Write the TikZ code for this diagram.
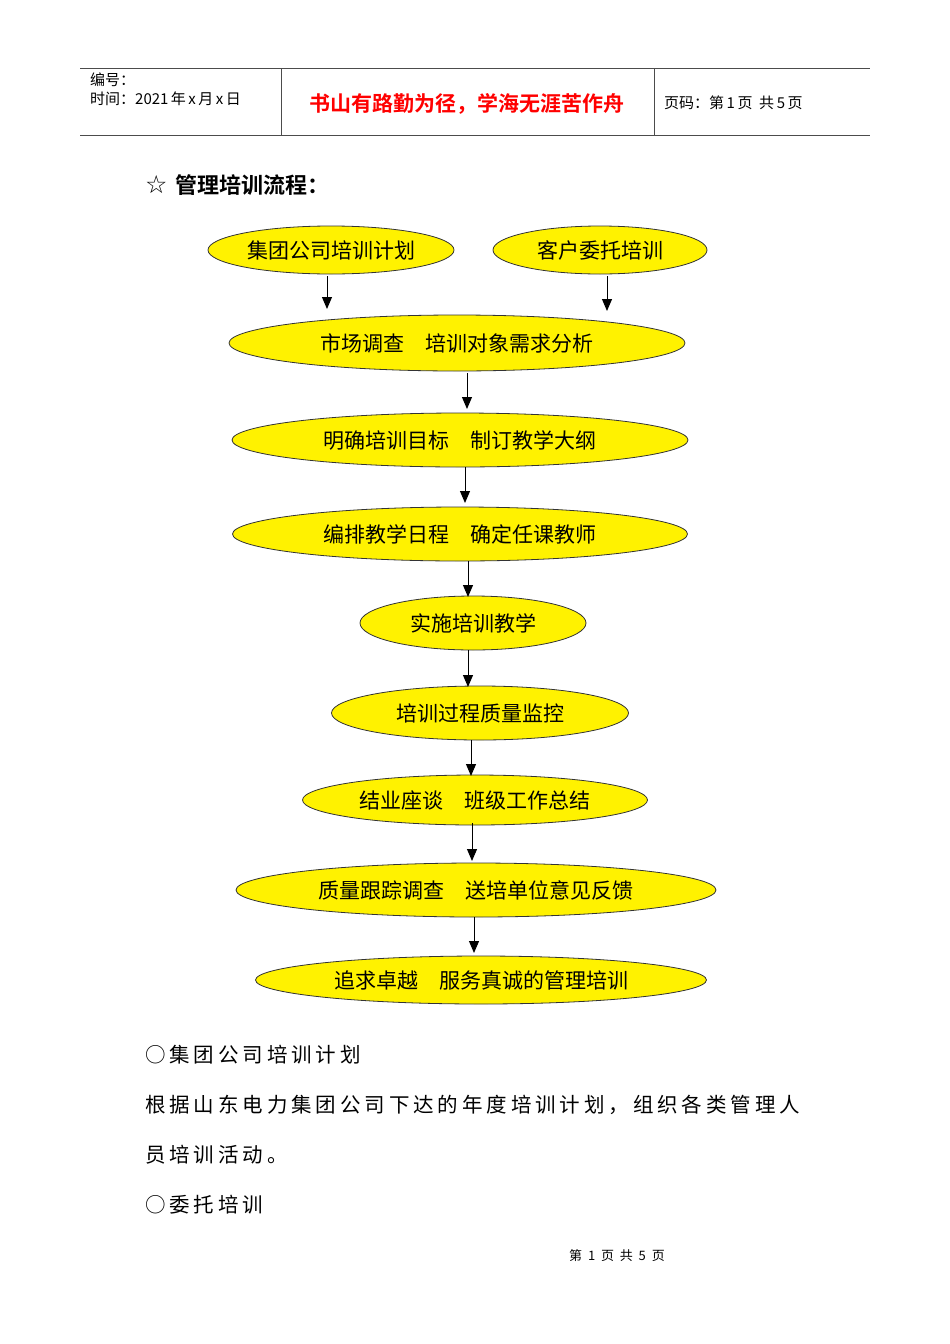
\documentclass[tikz,border=0pt]{standalone}
\usepackage{fontspec}
\setmainfont{Liberation Serif}
\newfontfamily\cjk{Noto Sans CJK SC}
\newfontfamily\cjkb{Noto Sans CJK SC Bold}
\newfontfamily\cjkl[LetterSpace=19]{Noto Sans CJK SC}
\newfontfamily\symf{DejaVu Sans}
\begin{document}
\begin{tikzpicture}[x=1pt,y=-1pt,
  ell/.style={ellipse,draw=black!80,line width=0.8pt,fill=yellow,inner sep=0pt,
     font=\cjk\fontsize{21}{21}\selectfont},
  arr/.style={-{Triangle[length=12pt,width=10pt]},line width=1pt},
  hdr/.style={anchor=west,font=\cjk\fontsize{15}{15}\selectfont,inner sep=0pt},
  body/.style={anchor=west,font=\cjkl\fontsize{20.5}{20.5}\selectfont,inner sep=0pt}]
\usetikzlibrary{shapes.geometric,arrows.meta}
\useasboundingbox (0,0) rectangle (950,1344);
% header
\draw[line width=0.8pt,black!70] (80,68) -- (870,68) (80,135) -- (870,135) (281,68) -- (281,135) (654,68) -- (654,135);
\node[hdr] (h1) at (90,80) {编号：};
\node[hdr] (h2) at (90,99) {时间：2021\,年\,x\,月\,x\,日};
\node[font=\cjkb\fontsize{21}{21}\selectfont,text=red,inner sep=0pt] (h3) at (467,104) {书山有路勤为径，学海无涯苦作舟};
\node[hdr] (h4) at (664,103) {页码：第\,1\,页\ \ 共\,5\,页};
\node[anchor=west,inner sep=0pt] (title) at (145,185) {{\symf\fontsize{25}{25}\selectfont ☆}\hspace{8pt}{\cjkb\fontsize{22}{22}\selectfont 管理培训流程：}};
% ellipses
\node[ell,minimum width=246pt,minimum height=48pt] (e1) at (331,250) {集团公司培训计划};
\node[ell,minimum width=214pt,minimum height=48pt] (e2) at (600,250) {客户委托培训};
\node[ell,minimum width=456pt,minimum height=56pt] (e3) at (457,343) {市场调查\quad 培训对象需求分析};
\node[ell,minimum width=456pt,minimum height=54pt] (e4) at (460,440) {明确培训目标\quad 制订教学大纲};
\node[ell,minimum width=455pt,minimum height=54pt] (e5) at (460,534) {编排教学日程\quad 确定任课教师};
\node[ell,minimum width=226pt,minimum height=54pt] (e6) at (473,623) {实施培训教学};
\node[ell,minimum width=297pt,minimum height=54pt] (e7) at (480,713) {培训过程质量监控};
\node[ell,minimum width=345pt,minimum height=50pt] (e8) at (475,800) {结业座谈\quad 班级工作总结};
\node[ell,minimum width=480pt,minimum height=54pt] (e9) at (476,890) {质量跟踪调查\quad 送培单位意见反馈};
\node[ell,minimum width=451pt,minimum height=48pt] (e10) at (481,980) {追求卓越\quad 服务真诚的管理培训};
% arrows
\draw[arr] ([xshift=-4pt,yshift=-2pt]e1.south) -- ([xshift=-4pt]e1.south |- 0,309);
\draw[arr] ([xshift=7pt,yshift=-2pt]e2.south) -- ([xshift=7pt]e2.south |- 0,311);
\draw[arr] ([xshift=10pt,yshift=-2pt]e3.south) -- ([xshift=10pt]e3.south |- 0,409);
\draw[arr] ([xshift=5pt]e4.south) -- ([xshift=5pt]e4.south |- 0,503);
\draw[arr] ([xshift=8pt]e5.south) -- ([xshift=8pt]e5.south |- 0,597);
\draw[arr] ([xshift=-5pt]e6.south) -- ([xshift=-5pt]e6.south |- 0,687);
\draw[arr] ([xshift=-9pt]e7.south) -- ([xshift=-9pt]e7.south |- 0,776);
\draw[arr] ([xshift=-3pt,yshift=2pt]e8.south) -- ([xshift=-3pt]e8.south |- 0,861);
\draw[arr] ([xshift=-2pt]e9.south) -- ([xshift=-2pt]e9.south |- 0,953);
% body text
\node[body] (b1) at (145,1055) {○集团公司培训计划};
\node[body] (b2) at (145,1105) {根据山东电力集团公司下达的年度培训计划，组织各类管理人};
\node[body] (b3) at (145,1155) {员培训活动。};
\node[body] (b4) at (145,1205) {○委托培训};
\node[font=\cjk\fontsize{13}{13}\selectfont,inner sep=0pt] (foot) at (617,1256) {第\ \ 1\ \ 页\ \ 共\ \ 5\ \ 页};
\end{tikzpicture}
\end{document}
